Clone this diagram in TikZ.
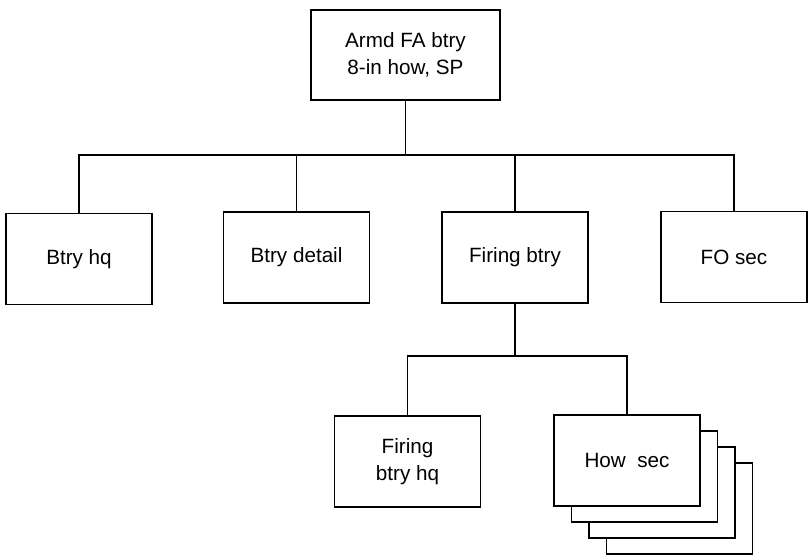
\documentclass[tikz,border=0pt]{standalone}
\usepackage{fontspec}
\setmainfont{Liberation Sans}
\begin{document}
\begin{tikzpicture}[
    x=0.75pt, y=-0.75pt,
    box/.style={rectangle, draw, line width=1.3pt, fill=white, minimum width=109.5pt, minimum height=68.25pt, align=center, inner sep=0pt, font=\fontsize{15.5}{20}\selectfont},
    link/.style={line width=1.3pt}
]
    \useasboundingbox (0,0) rectangle (810,560);
    % Units
    \node[box, minimum width=141.75pt, minimum height=67.5pt] (btry) at (405.5,55) {Armd FA btry\\8-in how, SP};
    \node[box] (hq) at (79,259) {Btry hq};
    \node[box] (detail) at (296.5,257.5) {Btry detail};
    \node[box] (firing) at (515,257.5) {Firing btry};
    \node[box] (fo) at (734,257) {FO sec};
    \node[box] (firinghq) at (407.5,461.5) {Firing\\btry hq};
    % Stacked sections
    \foreach \i in {3,2,1}
        \node[box] (how\i) at ({627+17.5*\i},{460.5+16*\i}) {};
    \node[box] (how) at (627,460.5) {How\ \ sec};

    % Lines
    \coordinate (bus) at (405.5,155);
    \coordinate (subbus) at (515,356);
    \draw[link] (btry.south) -- (bus);
    \foreach \n in {hq,detail,firing,fo}
        \draw[link] (\n.north) |- (bus);
    \draw[link] (firing.south) -- (subbus);
    \foreach \n in {firinghq,how}
        \draw[link] (\n.north) |- (subbus);
\end{tikzpicture}
\end{document}
